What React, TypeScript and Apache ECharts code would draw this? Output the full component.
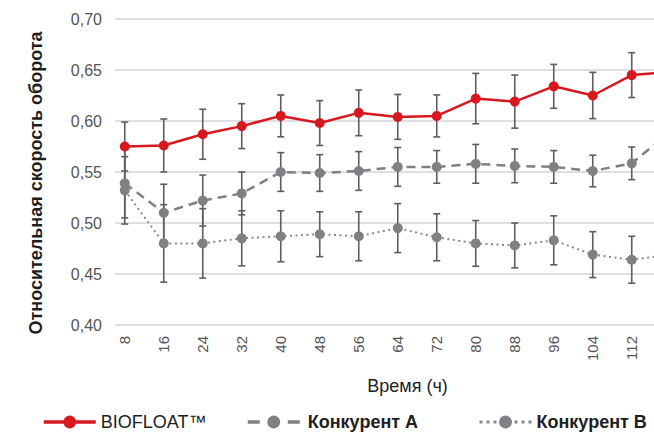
import React, { useEffect, useRef } from "react";
import * as echarts from "echarts";

const hours = [8, 16, 24, 32, 40, 48, 56, 64, 72, 80, 88, 96, 104, 112, 120];
const xTickLabels = [8, 16, 24, 32, 40, 48, 56, 64, 72, 80, 88, 96, 104, 112];
const yTicks = [0.4, 0.45, 0.5, 0.55, 0.6, 0.65, 0.7];

const bioName = "BIOFLOAT™";
const bioValues = [0.575, 0.576, 0.587, 0.595, 0.605, 0.598, 0.608, 0.604, 0.605, 0.622, 0.619, 0.634, 0.625, 0.645, 0.648];
const bioErr = [0.024, 0.026, 0.0245, 0.022, 0.0205, 0.022, 0.0224, 0.022, 0.0206, 0.0247, 0.026, 0.0215, 0.0227, 0.022, 0.022];

const aName = "Конкурент A";
const aValues = [0.539, 0.51, 0.522, 0.529, 0.55, 0.549, 0.551, 0.555, 0.555, 0.558, 0.556, 0.555, 0.551, 0.5585, 0.59];
const aErr = [0.034, 0.028, 0.025, 0.021, 0.019, 0.018, 0.019, 0.019, 0.016, 0.019, 0.0165, 0.016, 0.0155, 0.016, 0.016];

const bName = "Конкурент B";
const bValues = [0.532, 0.48, 0.48, 0.485, 0.487, 0.489, 0.487, 0.495, 0.486, 0.48, 0.478, 0.483, 0.469, 0.464, 0.469];
const bErr = [0.033, 0.038, 0.034, 0.027, 0.025, 0.022, 0.024, 0.024, 0.023, 0.0224, 0.022, 0.024, 0.0225, 0.023, 0.023];

const FONT = "'Liberation Sans', Arial, Helvetica, sans-serif";
const RED = "#d7191f";
const GRAY = "#7f8083";
const ERR = "#5e5e60";

function pts(values: number[]) {
  return values.map((v, i) => [hours[i], v]);
}
function errData(values: number[], errs: number[]) {
  return values.map((v, i) => [hours[i], v - errs[i], v + errs[i]]);
}

function errorSeries(values: number[], errs: number[]) {
  return {
    type: "custom",
    z: 1,
    silent: true,
    encode: { x: 0, y: [1, 2] },
    data: errData(values, errs),
    renderItem: (params: any, api: any) => {
      const x = api.value(0);
      const lo = api.coord([x, api.value(1)]);
      const hi = api.coord([x, api.value(2)]);
      const w = 3.5;
      const style = { stroke: ERR, lineWidth: 1.6 };
      return {
        type: "group",
        children: [
          { type: "line", shape: { x1: lo[0], y1: lo[1], x2: hi[0], y2: hi[1] }, style },
          { type: "line", shape: { x1: lo[0] - w, y1: lo[1], x2: lo[0] + w, y2: lo[1] }, style },
          { type: "line", shape: { x1: hi[0] - w, y1: hi[1], x2: hi[0] + w, y2: hi[1] }, style },
        ],
      };
    },
  };
}

export default function App() {
  const ref = useRef<HTMLDivElement>(null);
  useEffect(() => {
    if (!ref.current) return;
    const chart = echarts.init(ref.current, undefined, { renderer: "svg" });
    const legendBase = {
      top: 408,
      itemWidth: 52,
      itemHeight: 16,
      itemGap: 0,
    };
    chart.setOption({
      animation: false,
      textStyle: { fontFamily: FONT },
      grid: { left: 115, right: 0, top: 19, bottom: 107 },
      legend: [
        {
          ...legendBase,
          left: 37,
          data: [{ name: bioName, textStyle: { fontSize: 18, color: "#1e1e1e", fontWeight: "normal", fontFamily: FONT } }],
          lineStyle: { width: 3.5 },
        },
        {
          ...legendBase,
          left: 241,
          data: [{ name: aName, textStyle: { fontSize: 18, color: "#1e1e1e", fontWeight: "bold", fontFamily: FONT, padding: [0, 0, 0, 3] } }],
          lineStyle: { width: 3.5, type: [12, 28] },
        },
        {
          ...legendBase,
          left: 473,
          data: [{ name: bName, textStyle: { fontSize: 18, color: "#1e1e1e", fontWeight: "bold", fontFamily: FONT } }],
          lineStyle: { width: 3, type: [3, 4] },
        },
      ],
      xAxis: {
        type: "value",
        min: 6,
        max: 126,
        name: "Время (ч)",
        nameLocation: "middle",
        nameGap: 52,
        nameTextStyle: { fontSize: 18, color: "#1e1e1e", fontFamily: FONT },
        axisLine: { show: false },
        axisTick: { show: false },
        splitLine: { show: false },
        axisLabel: {
          customValues: xTickLabels,
          rotate: 90,
          fontSize: 15,
          color: "#555",
          margin: 11,
          fontFamily: FONT,
        },
      },
      yAxis: {
        type: "value",
        min: 0.4,
        max: 0.7,
        interval: 0.05,
        name: "Относительная скорость оборота",
        nameLocation: "middle",
        nameGap: 70,
        nameTextStyle: {
          fontSize: 18,
          fontWeight: "bold",
          color: "#1e1e1e",
          fontFamily: FONT,
          padding: [0, 22, 0, 0],
        },
        axisLine: { show: false },
        axisTick: { show: false },
        axisLabel: {
          customValues: yTicks,
          fontSize: 16,
          color: "#555",
          margin: 13,
          fontFamily: FONT,
          formatter: (v: number) => v.toFixed(2).replace(".", ","),
        },
        splitLine: { lineStyle: { color: "#d4d4da", width: 1.6 } },
      },
      series: [
        errorSeries(bValues, bErr),
        errorSeries(aValues, aErr),
        errorSeries(bioValues, bioErr),
        {
          name: bName,
          type: "line",
          z: 3,
          data: pts(bValues),
          symbol: "circle",
          symbolSize: 10,
          itemStyle: { color: GRAY },
          lineStyle: { color: "#8a8a8d", width: 2, type: [2, 3.5] },
        },
        {
          name: aName,
          type: "line",
          z: 4,
          data: pts(aValues),
          symbol: "circle",
          symbolSize: 10,
          itemStyle: { color: GRAY },
          lineStyle: { color: GRAY, width: 2.5, type: [9, 6] },
        },
        {
          name: bioName,
          type: "line",
          z: 5,
          data: pts(bioValues),
          symbol: "circle",
          symbolSize: 10,
          itemStyle: { color: RED },
          lineStyle: { color: RED, width: 2.5 },
        },
      ],
    });
    return () => chart.dispose();
  }, []);
  return (
    <div style={{ position: "absolute", left: 0, top: 0, width: 654, height: 432, overflow: "hidden", background: "#fff" }}>
      <div ref={ref} style={{ width: 700, height: 432 }} />
    </div>
  );
}
